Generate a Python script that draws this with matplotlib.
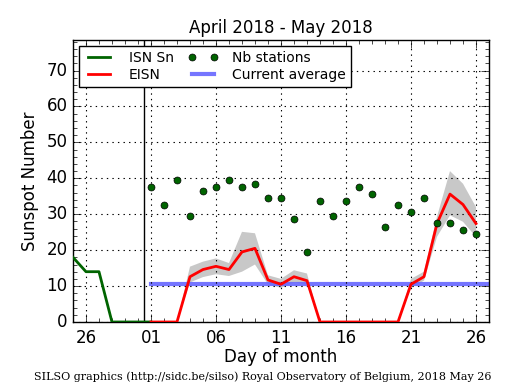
import matplotlib
matplotlib.use("Agg")
import matplotlib.pyplot as plt
import numpy as np

plt.style.use("classic")

# days relative to 2018 May 01 (0 = May 01)
isn_days = [-6, -5, -4, -3, -2, -1, 0]
isn_vals = [18, 14, 14, 0, 0, 0, 0]

eisn_days = list(range(0, 26))
eisn_vals = [0, 0, 0, 12.6, 14.6, 15.5, 14.6, 19.5, 20.5, 11.7, 10.5, 12.6, 11.5,
             0, 0, 0, 0, 0, 0, 0, 10.5, 12.6, 27.4, 35.6, 32.7, 27.4]
band_lo = [0, 0, 0, 11, 12.5, 13.3, 12.8, 14, 16, 10.5, 9.5, 11, 10.5,
           0, 0, 0, 0, 0, 0, 0, 9.5, 11.5, 23.7, 29.7, 27.9, 23.7]
band_hi = [0, 0, 0, 15.4, 16.8, 17.7, 16.4, 25.1, 24.7, 13, 12, 14.4, 13.5,
           0, 0, 0, 0, 0, 0, 0, 12, 14, 29.3, 42, 38.5, 32]

nb_vals = [37.6, 32.7, 39.6, 29.5, 36.5, 37.6, 39.6, 37.6, 38.4, 34.5, 34.5, 28.7,
           19.5, 33.7, 29.5, 33.7, 37.6, 35.6, 26.5, 32.7, 30.6, 34.5, 27.6, 27.6,
           25.7, 24.6]

avg_value = 10.7
avg_days = [0, 26]

tick_pos = [-5, 0, 5, 10, 15, 20, 25]
tick_labels = ["26", "01", "06", "11", "16", "21", "26"]

fig = plt.figure(figsize=(5.15, 3.9), dpi=100)
fig.patch.set_facecolor("white")
ax = fig.add_axes([0.1417, 0.1744, 0.8078, 0.7230])

ax.fill_between(eisn_days, band_lo, band_hi, color="#c8c8c8", edgecolor="none", zorder=1)
ax.plot(isn_days, isn_vals, color="#006400", lw=2, label="ISN Sn", zorder=3)
ax.plot(eisn_days, eisn_vals, color="red", lw=2, label="EISN", zorder=3)
ax.plot(eisn_days, nb_vals, linestyle="none", marker="o", markersize=5,
        markerfacecolor="#006400", markeredgecolor="black", markeredgewidth=0.5,
        label="Nb stations", zorder=4)
ax.plot(avg_days, [avg_value, avg_value], color="#6666ff", lw=3, alpha=0.9,
        label="Current average", zorder=2)
ax.axvline(-0.5, color="black", lw=1, zorder=2)

ax.set_xlim(-6, 26)
ax.set_ylim(0, 78.5)
ax.set_xticks(tick_pos)
ax.set_xticklabels(tick_labels)
ax.set_xticks(np.arange(-6, 27, 1), minor=True)
ax.set_yticks(np.arange(0, 71, 10))
ax.set_yticks(np.arange(0, 79, 2), minor=True)
ax.tick_params(axis="both", which="major", labelsize=12, direction="in", length=6)
ax.tick_params(axis="both", which="minor", direction="in", length=3)
ax.tick_params(axis="x", pad=5)
ax.grid(True, which="major", color="black", linestyle=":", lw=0.8)

ax.set_xlabel("Day of month", fontsize=12, labelpad=1)
ax.set_ylabel("Sunspot Number", fontsize=12)
ax.set_title("April 2018 - May 2018", fontsize=12)

leg = ax.legend(loc="upper left", ncol=2, fontsize=10, numpoints=2,
                frameon=True, borderaxespad=0.4, handlelength=2.2,
                columnspacing=1.0, handletextpad=1.0, labelspacing=0.2)
leg.get_frame().set_edgecolor("black")

fig.text(0.51, 0.035, "SILSO graphics (http://sidc.be/silso) Royal Observatory of Belgium, 2018 May 26",
         ha="center", va="center", fontsize=8, family="DejaVu Serif")

fig.savefig("out.png", dpi=100, facecolor="white")
